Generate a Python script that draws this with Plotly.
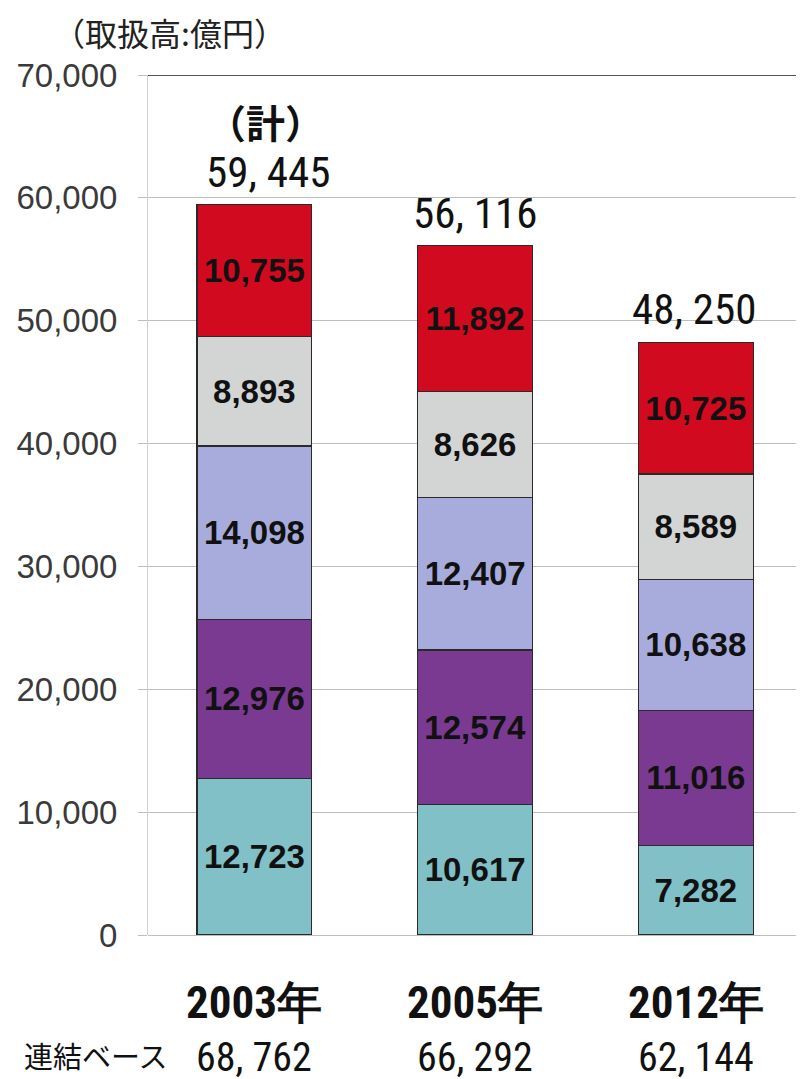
import plotly.graph_objects as go

years = ["2003年", "2005年", "2012年"]
teal = [12723, 10617, 7282]
purple = [12976, 12574, 11016]
lavender = [14098, 12407, 10638]
gray = [8893, 8626, 8589]
red = [10755, 11892, 10725]
totals = [59445, 56116, 48250]
consolidated = [68762, 66292, 62144]
y_ticks = [0, 10000, 20000, 30000, 40000, 50000, 60000, 70000]

series = [
    (teal, "#80c0c6"),
    (purple, "#7a3a92"),
    (lavender, "#a8acdc"),
    (gray, "#d3d5d5"),
    (red, "#d20a20"),
]

xpos = list(range(len(years)))
fig = go.Figure()
for vals, col in series:
    fig.add_trace(go.Bar(
        x=xpos, y=vals, width=0.52,
        marker=dict(color=col, line=dict(color="#2a2a2a", width=1.2)),
        texttemplate="%{y:,}", textposition="inside", insidetextanchor="middle",
        textfont=dict(family="Liberation Sans, Arial, sans-serif", size=33, color="#111", weight="bold"),
        constraintext="none", showlegend=False, hoverinfo="skip",
    ))

NARROW = "Liberation Sans Narrow, Arial Narrow, Roboto Condensed, sans-serif"
total_shift = [14, 0, -2]
ann = []
for i, t in enumerate(totals):
    ann.append(dict(x=i, y=t, yref="y", text=f"{t:,}".replace(",", ", "), showarrow=False,
                    yanchor="bottom", yshift=6, xshift=total_shift[i],
                    font=dict(family=NARROW, size=43, color="#111")))
ann.append(dict(x=0, y=totals[0], yref="y", text="<b>（計）</b>", showarrow=False,
                yanchor="bottom", yshift=54, xshift=11,
                font=dict(family="Noto Sans CJK JP", size=39, color="#111")))
for i, yl in enumerate(years):
    ann.append(dict(x=i, y=-0.078, yref="paper", text=f"<b>{yl}</b>", showarrow=False,
                    yanchor="middle",
                    font=dict(family=NARROW, size=45, color="#111")))
    ann.append(dict(x=i, y=-0.143, yref="paper", text=f"{consolidated[i]:,}".replace(",", ", "),
                    showarrow=False, yanchor="middle",
                    font=dict(family=NARROW, size=40, color="#111")))
ann.append(dict(x=0.034, xref="paper", xanchor="right", y=-0.14, yref="paper",
                text="連結ベース", showarrow=False, yanchor="middle",
                font=dict(family="Noto Sans CJK JP", size=29, color="#111")))
ann.append(dict(x=-0.148, xref="paper", xanchor="left", y=1.05, yref="paper", yanchor="middle",
                text="（取扱高:億円）", showarrow=False,
                font=dict(family="Noto Sans CJK JP", size=32, color="#222")))

fig.update_layout(
    barmode="stack",
    width=804, height=1079,
    margin=dict(l=131, r=8, t=67, b=152),
    paper_bgcolor="white", plot_bgcolor="white",
    annotations=ann,
    shapes=[dict(type="line", xref="paper", x0=0, x1=1, yref="y", y0=70000, y1=70000,
                 line=dict(color="#1a1a1a", width=1.6))],
)
fig.update_xaxes(range=[-0.482, 2.49], showticklabels=False, showgrid=False, zeroline=False,
                 showline=False, fixedrange=True)
fig.update_yaxes(range=[0, 70000], tickvals=y_ticks, tickformat=",",
                 showgrid=True, gridcolor="#bdbdbd", gridwidth=1,
                 zeroline=True, zerolinecolor="#bdbdbd", zerolinewidth=1,
                 showline=True, linecolor="#d0d0d0", linewidth=1,
                 ticks="outside", ticklen=9, tickcolor="#bdbdbd",
                 ticklabelstandoff=14,
                 tickfont=dict(family="Liberation Sans, Arial, sans-serif", size=33, color="#3a3a3a"))

fig.write_html("out.html")
